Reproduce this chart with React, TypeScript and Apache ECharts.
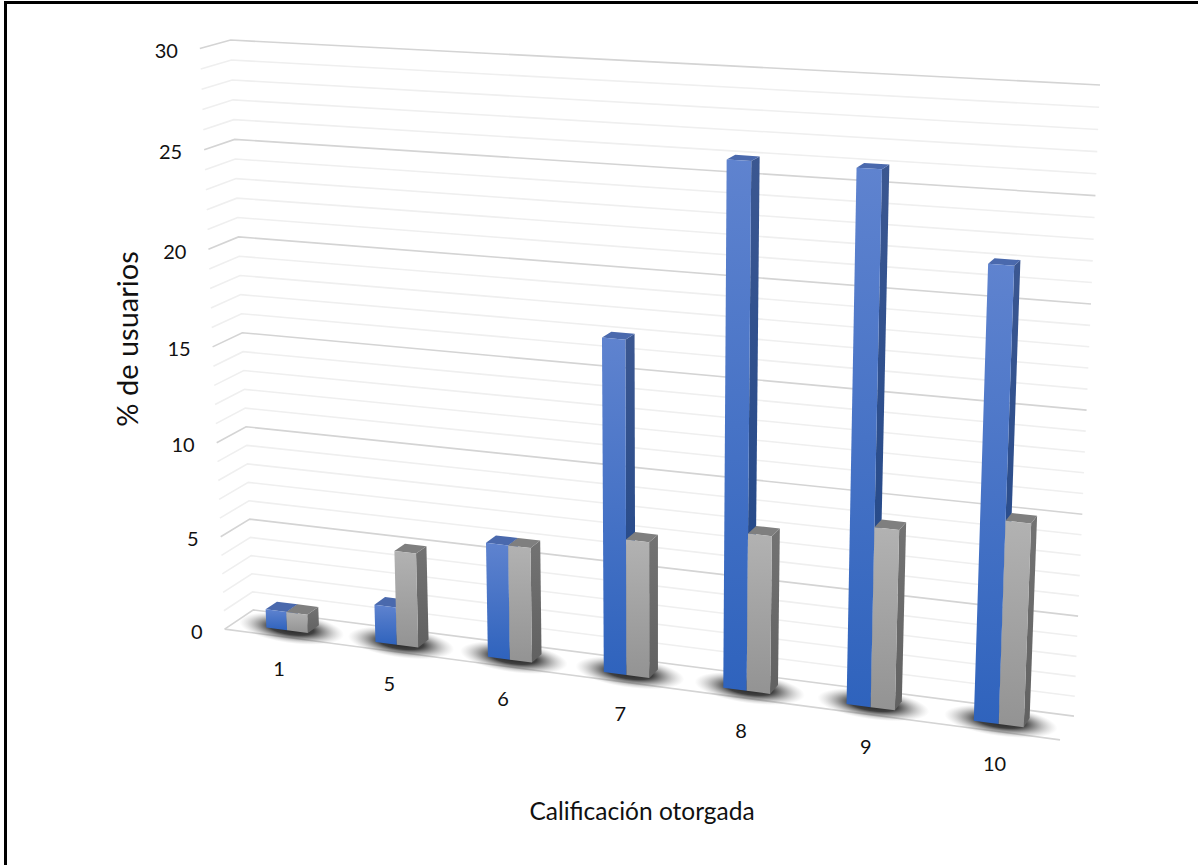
import React, { useEffect, useRef } from "react";
import * as echarts from "echarts";

const categories = ["1", "5", "6", "7", "8", "9", "10"];
const seriesBlue = [1, 2, 6, 17, 26, 26, 22];
const seriesGray = [1, 5, 6, 7, 8, 9, 10];
const majorTicks = [0, 5, 10, 15, 20, 25, 30];
const minorTicks = [1, 2, 3, 4, 6, 7, 8, 9, 11, 12, 13, 14, 16, 17, 18, 19, 21, 22, 23, 24, 26, 27, 28, 29];
const yAxisTitle = "% de usuarios";
const xAxisTitle = "Calificación otorgada";

const FONT = "Lato, Carlito, sans-serif";
const TEXT_COLOR = "#111111";
const BAR_SHARE = 0.192; // width of one bar as a share of its category band
const DEPTH_FRONT = 0.3;
const DEPTH_BACK = 0.7;

// Camera calibration: [along the categories, up the value axis, into the depth] -> screen.
const anchors: [number, number, number, number, number][] = [
  [0, 0, 0, 225, 629],
  [1, 0, 0, 1060, 740],
  [0, 1, 0, 199.5, 48.5],
  [0, 0, 1, 253, 610],
  [1, 0, 1, 1074, 716],
  [0, 1, 1, 231, 40],
  [1, 1, 1, 1100, 85],
];

// Least-squares fit of a 3x4 projective camera with its last entry fixed to 1.
function solveCamera(): number[] {
  const rows: number[][] = [];
  const rhs: number[] = [];
  for (const [u, v, w, sx, sy] of anchors) {
    rows.push([u, v, w, 1, 0, 0, 0, 0, -sx * u, -sx * v, -sx * w]);
    rhs.push(sx);
    rows.push([0, 0, 0, 0, u, v, w, 1, -sy * u, -sy * v, -sy * w]);
    rhs.push(sy);
  }
  const n = 11;
  const m: number[][] = [];
  for (let i = 0; i < n; i++) {
    const line: number[] = [];
    for (let j = 0; j < n; j++) {
      let s = 0;
      rows.forEach((r) => (s += r[i] * r[j]));
      line.push(s);
    }
    let b = 0;
    rows.forEach((r, k) => (b += r[i] * rhs[k]));
    line.push(b);
    m.push(line);
  }
  for (let c = 0; c < n; c++) {
    let p = c;
    for (let r = c + 1; r < n; r++) if (Math.abs(m[r][c]) > Math.abs(m[p][c])) p = r;
    [m[c], m[p]] = [m[p], m[c]];
    for (let r = 0; r < n; r++) {
      if (r === c) continue;
      const f = m[r][c] / m[c][c];
      for (let k = c; k <= n; k++) m[r][k] -= f * m[c][k];
    }
  }
  return m.map((line, i) => line[n] / line[i]);
}

const cam = solveCamera();
function project(u: number, v: number, w: number): [number, number] {
  const d = cam[8] * u + cam[9] * v + cam[10] * w + 1;
  return [
    (cam[0] * u + cam[1] * v + cam[2] * w + cam[3]) / d,
    (cam[4] * u + cam[5] * v + cam[6] * w + cam[7]) / d,
  ];
}

// Reads the flat cartesian position from the axis scales and normalises it to the grid.
function toUnit(api: any, params: any, cat: number, value: number) {
  const rect = params.coordSys;
  const p = api.coord([cat, value]);
  return { u: (p[0] - rect.x) / rect.width, v: 1 - (p[1] - rect.y) / rect.height, band: api.size([1, 0])[0] / rect.width };
}

const vGrad = (top: string, bottom: string) => ({
  type: "linear",
  x: 0,
  y: 0,
  x2: 0,
  y2: 1,
  colorStops: [
    { offset: 0, color: top },
    { offset: 1, color: bottom },
  ],
});

function gridItem(major: boolean) {
  return (params: any, api: any) => {
    const val = api.value(1);
    const { v } = toUnit(api, params, 0, val);
    const pts = [project(0, v, 0), project(0, v, 1), project(1, v, 1)];
    const lineStyle = { fill: "none", stroke: major ? "#d4d4d4" : "#efefef", lineWidth: 1.6 };
    const wall = { type: "polyline", shape: { points: pts }, style: lineStyle, silent: true };
    if (val !== 0) return wall;
    // The floor also has its front edge.
    return {
      type: "group",
      children: [wall, { type: "polyline", shape: { points: [project(0, v, 0), project(1, v, 0)] }, style: lineStyle, silent: true }],
    };
  };
}

function tickLabelItem(params: any, api: any) {
  const val = api.value(1);
  const { v } = toUnit(api, params, 0, val);
  const [x, y] = project(0, v, 0);
  return {
    type: "text",
    style: { text: String(val), x: x - 22, y: y + 1.5, align: "right", verticalAlign: "middle", fontFamily: FONT, fontSize: 20, fill: TEXT_COLOR },
  };
}

function categoryLabelItem(params: any, api: any) {
  const idx = api.value(0);
  const { u } = toUnit(api, params, idx, 0);
  const [x, y] = project(u, 0, 0);
  return {
    type: "text",
    style: { text: categories[idx], x: x + 0.5, y: y + 32, align: "center", verticalAlign: "middle", fontFamily: FONT, fontSize: 20, fill: TEXT_COLOR },
  };
}

function shadowItem(params: any, api: any) {
  const idx = api.value(0);
  const { u, band } = toUnit(api, params, idx, 0);
  const half = band * BAR_SHARE;
  const a = project(u - half, 0, 0.5);
  const b = project(u + half, 0, 0.5);
  const rx = Math.hypot(b[0] - a[0], b[1] - a[1]) / 2 + 32;
  const angle = Math.atan2(b[1] - a[1], b[0] - a[0]);
  return {
    type: "ellipse",
    x: (a[0] + b[0]) / 2 - 1,
    y: (a[1] + b[1]) / 2 + 2,
    rotation: -angle,
    shape: { cx: 0, cy: 0, rx, ry: 15 },
    style: {
      fill: {
        type: "radial",
        x: 0.5,
        y: 0.5,
        r: 0.5,
        colorStops: [
          { offset: 0, color: "rgba(20,20,20,0.95)" },
          { offset: 0.42, color: "rgba(30,30,30,0.85)" },
          { offset: 0.7, color: "rgba(70,70,70,0.4)" },
          { offset: 1, color: "rgba(150,150,150,0)" },
        ],
      },
    },
    silent: true,
  };
}

function barItem(side: 0 | 1, faces: { frontTop: string; frontBottom: string; sideTop: string; sideBottom: string; top: string }) {
  return (params: any, api: any) => {
    const idx = api.value(0);
    const top = toUnit(api, params, idx, api.value(1));
    const base = toUnit(api, params, idx, 0);
    const width = top.band * BAR_SHARE;
    const u0 = top.u + (side === 0 ? -width : 0);
    const u1 = u0 + width;
    const v0 = base.v;
    const v1 = top.v;
    const poly = (points: [number, number][], fill: any) => ({ type: "polygon", shape: { points }, style: { fill, stroke: "none" }, silent: true });
    return {
      type: "group",
      children: [
        poly(
          [project(u1, v0, DEPTH_FRONT), project(u1, v0, DEPTH_BACK), project(u1, v1, DEPTH_BACK), project(u1, v1, DEPTH_FRONT)],
          vGrad(faces.sideTop, faces.sideBottom),
        ),
        poly([project(u0, v1, DEPTH_FRONT), project(u1, v1, DEPTH_FRONT), project(u1, v1, DEPTH_BACK), project(u0, v1, DEPTH_BACK)], faces.top),
        poly(
          [project(u0, v0, DEPTH_FRONT), project(u1, v0, DEPTH_FRONT), project(u1, v1, DEPTH_FRONT), project(u0, v1, DEPTH_FRONT)],
          vGrad(faces.frontTop, faces.frontBottom),
        ),
      ],
    };
  };
}

const blueFaces = { frontTop: "#5f83cf", frontBottom: "#2f63bd", sideTop: "#3b5791", sideBottom: "#1e4587", top: "#4a69ad" };
const grayFaces = { frontTop: "#b2b2b2", frontBottom: "#939393", sideTop: "#737373", sideBottom: "#616161", top: "#7f7f7f" };

export default function App() {
  const ref = useRef<HTMLDivElement>(null);

  useEffect(() => {
    if (!ref.current) return;
    const chart = echarts.init(ref.current, undefined, { renderer: "svg" });
    const custom = (name: string, data: any[], renderItem: any, z: number) => ({
      type: "custom",
      name,
      data,
      renderItem,
      z,
      clip: false,
      silent: true,
      encode: { x: 0, y: 1 },
    });
    const catRows = categories.map((_, i) => [i, 0]);
    chart.setOption({
      animation: false,
      backgroundColor: "#ffffff",
      grid: { left: 100, top: 100, width: 700, height: 600 },
      xAxis: { type: "category", data: categories, show: false },
      yAxis: { type: "value", min: 0, max: 30, interval: 5, show: false },
      graphic: [
        { type: "rect", shape: { x: 4, y: 1, width: 3, height: 864 }, style: { fill: "#000000" }, z: 10 },
        { type: "rect", shape: { x: 4, y: 1, width: 1194, height: 3 }, style: { fill: "#000000" }, z: 10 },
        {
          type: "text",
          x: 126,
          y: 339,
          rotation: Math.PI / 2,
          style: { text: yAxisTitle, align: "center", verticalAlign: "middle", fontFamily: FONT, fontSize: 29, fill: TEXT_COLOR },
        },
        {
          type: "text",
          x: 642,
          y: 810,
          style: { text: xAxisTitle, align: "center", verticalAlign: "middle", fontFamily: FONT, fontSize: 24.5, fill: TEXT_COLOR },
        },
      ],
      series: [
        custom("Líneas secundarias", minorTicks.map((t) => [0, t]), gridItem(false), 1),
        custom("Líneas principales", majorTicks.map((t) => [0, t]), gridItem(true), 2),
        custom("Escala", majorTicks.map((t) => [0, t]), tickLabelItem, 3),
        custom("Categorías", catRows, categoryLabelItem, 3),
        custom("Sombras", catRows, shadowItem, 4),
        custom("Usuarios 1", seriesBlue.map((v, i) => [i, v]), barItem(0, blueFaces), 5),
        custom("Usuarios 2", seriesGray.map((v, i) => [i, v]), barItem(1, grayFaces), 6),
      ],
    });
    return () => chart.dispose();
  }, []);

  return <div ref={ref} style={{ position: "absolute", left: 0, top: 0, width: 1198, height: 865 }} />;
}
